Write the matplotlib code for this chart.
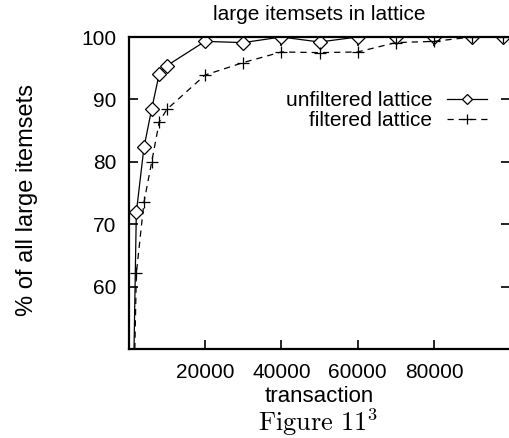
import matplotlib
matplotlib.use("Agg")
import matplotlib.pyplot as plt

plt.rcParams['font.family'] = ['Liberation Sans', 'DejaVu Sans']
plt.rcParams['mathtext.fontset'] = 'cm'

transactions = [0, 2000, 4000, 6000, 8000, 10000, 20000, 30000, 40000, 50000,
                60000, 70000, 80000, 90000, 98000]
unfiltered = [0, 71.9, 82.3, 88.4, 94.1, 95.4, 99.3, 99.1, 100, 99.2,
              100, 100, 100, 100, 100]
filtered = [0, 62.1, 73.5, 79.9, 86.4, 88.4, 93.9, 95.9, 97.6, 97.5,
            97.6, 99.1, 99.3, 100, 100]
xticks = [20000, 40000, 60000, 80000]
yticks = [60, 70, 80, 90, 100]

W, H = 509, 438
fig = plt.figure(figsize=(W / 100, H / 100), dpi=100)
ax = fig.add_axes([128.7 / W, 1 - 349 / H, (510.3 - 128.7) / W, (349 - 37) / H])

fs = 15
ax.plot(transactions, unfiltered, color='black', lw=0.9, marker='D',
        markersize=7, markerfacecolor='white', markeredgecolor='black',
        markeredgewidth=0.9, label='unfiltered lattice', clip_on=True)
ax.plot(transactions, filtered, color='black', lw=0.9, ls=(0, (5, 4)),
        marker='+', markersize=8.5, markeredgewidth=0.9,
        label='filtered lattice', clip_on=True)

ax.set_xlim(0, 100000)
ax.set_ylim(50, 100)
ax.set_xticks(xticks)
ax.set_xticklabels([str(v) for v in xticks])
ax.set_yticks(yticks)
ax.set_yticklabels([str(v) for v in yticks])
ax.tick_params(direction='in', length=6.5, width=1.2, labelsize=fs,
               right=True, top=True, pad=9)
ax.tick_params(axis='x', pad=10)
for s in ['left', 'bottom', 'top']:
    ax.spines[s].set_linewidth(1.6)
ax.spines['right'].set_visible(False)

ax.set_title('large itemsets in lattice', fontsize=fs, pad=12)
fig.text(319 / W, 1 - 401.7 / H, 'transaction', ha='center', va='baseline',
         fontsize=16)
fig.text(27.5 / W, 1 - 200 / H, '% of all large itemsets', rotation=90,
         ha='center', va='center', fontsize=17)
fig.text(318 / W, 1 - 430.7 / H, r'$\mathrm{Figure\ 11}^3$', ha='center',
         va='baseline', fontsize=19)

leg = ax.legend(loc='upper right', bbox_to_anchor=(487 / W, 1 - 91 / H),
                bbox_transform=fig.transFigure, frameon=False,
                markerfirst=False, fontsize=fs, handlelength=1.92,
                handletextpad=0.72, labelspacing=0.05, borderpad=0,
                borderaxespad=0)
for t in leg.get_texts():
    t.set_ha('right')
handles = leg.legend_handles
handles[0].set_markersize(5.5)
handles[1].set_markersize(7.5)

fig.savefig('out.png', dpi=100)
